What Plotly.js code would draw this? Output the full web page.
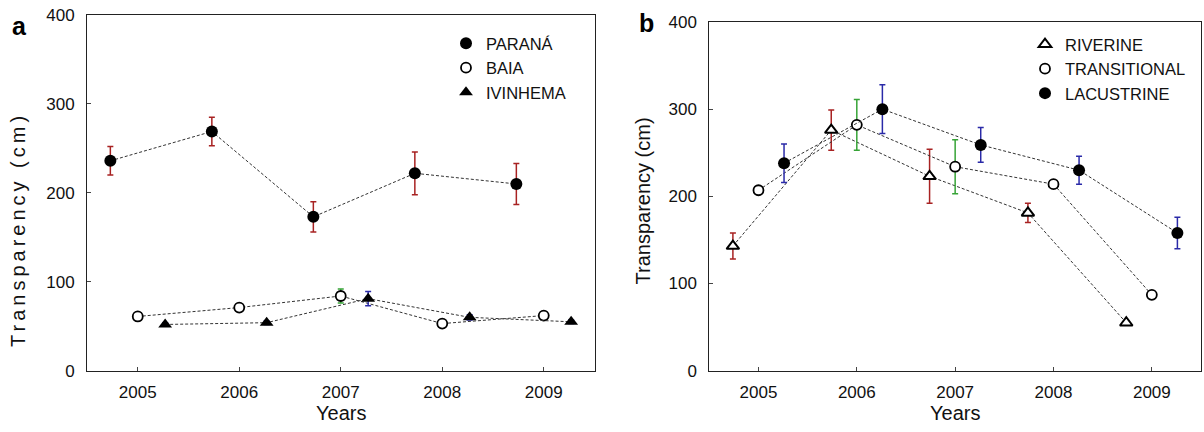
<!DOCTYPE html>
<html>
<head>
<meta charset="utf-8">
<script src="https://cdn.plot.ly/plotly-3.0.1.min.js"></script>
<style>
body { margin:0; padding:0; background:#fff; }
#chart { width:1204px; height:432px; }
.annotation[data-index="0"] .annotation-text { letter-spacing: 4px; }
</style>
</head>
<body>
<div id="chart"></div>
<script>
// ---- data ----
const years = [2005, 2006, 2007, 2008, 2009];

// Panel a
const paranaMean = [236, 269, 173, 222, 210];
const paranaErr  = [16, 16, 17, 24, 23];
const baiaMean   = [61, 71, 84, 53, 62];
const baiaErr    = [2, 2, 8, 2, 2];
const ivinMean   = [52, 54, 81, 60, 55];
const ivinErr    = [2, 2, 8, 3, 2];

// Panel b
const riverMean  = [143, 276, 223, 181, 55];
const riverErr   = [15, 23, 31, 11, 2];
const transMean  = [207, 282, 234, 214, 87];
const transErr   = [4, 29, 31, 3, 2];
const lacusMean  = [238, 300, 259, 230, 158];
const lacusErr   = [22, 28, 20, 16, 18];

const labelsA = ['PARANÁ', 'BAIA', 'IVINHEMA'];
const labelsB = ['RIVERINE', 'TRANSITIONAL', 'LACUSTRINE'];

// ---- styling ----
const RED = '#a82222', GREEN = '#36a336', BLUE = '#2a2aa8';
const FONT = '"Liberation Sans", Arial, sans-serif';
const shiftA = 0.27, shiftB = 0.26;
const dash = {color:'#333', width:1, dash:'3px,2px'};

function shifted(d) { return years.map(y => y + d); }

function series(x, y, err, errColor, marker, xa, ya) {
  return {
    type:'scatter', mode:'lines+markers', x:x, y:y, xaxis:xa, yaxis:ya,
    line:dash, marker:marker, showlegend:false, hoverinfo:'skip',
    error_y:{type:'data', array:err, visible:true, color:errColor, thickness:1.5, width:3}
  };
}
function legendItem(name, marker, leg) {
  return {type:'scatter', mode:'markers', x:[null], y:[null], name:name,
          marker:marker, legend:leg, showlegend:true, xaxis:'x', yaxis:'y'};
}

const mFilledCircle = {symbol:'circle', size:12, color:'#000', line:{color:'#000', width:0}};
const mOpenCircle   = {symbol:'circle', size:10, color:'#fff', line:{color:'#000', width:1.8}};
const mFilledTri    = {symbol:'triangle-up', size:12, color:'#000', line:{color:'#000', width:0}};
const mOpenTri      = {symbol:'triangle-up', size:11, color:'#fff', line:{color:'#000', width:2}};

const traces = [
  series(shifted(-shiftA), paranaMean, paranaErr, RED, mFilledCircle, 'x', 'y'),
  series(shifted(0), baiaMean, baiaErr, GREEN, mOpenCircle, 'x', 'y'),
  series(shifted(shiftA), ivinMean, ivinErr, BLUE, mFilledTri, 'x', 'y'),
  series(shifted(-shiftB), riverMean, riverErr, RED, mOpenTri, 'x2', 'y2'),
  series(shifted(0), transMean, transErr, GREEN, mOpenCircle, 'x2', 'y2'),
  series(shifted(shiftB), lacusMean, lacusErr, BLUE, mFilledCircle, 'x2', 'y2'),
  legendItem(labelsA[0], mFilledCircle, 'legend'),
  legendItem(labelsA[1], mOpenCircle, 'legend'),
  legendItem(labelsA[2], mFilledTri, 'legend'),
  legendItem(labelsB[0], mOpenTri, 'legend2'),
  legendItem(labelsB[1], mOpenCircle, 'legend2'),
  legendItem(labelsB[2], mFilledCircle, 'legend2')
];

const W = 1204, H = 432;
function xAxis(l, r) {
  return {domain:[l/W, r/W], range:[2004.5, 2009.5], tickvals:years, tickformat:'d',
          showgrid:false, zeroline:false, showline:true, mirror:true, linecolor:'#222', linewidth:1,
          ticks:'inside', ticklen:4, tickcolor:'#444', ticklabelstandoff:6,
          tickfont:{size:17, color:'#111', family:FONT}, fixedrange:true};
}
function yAxis(top, bottom, anchor) {
  return {domain:[(H-bottom)/H, (H-top)/H], range:[0, 400], dtick:100, anchor:anchor,
          showgrid:false, zeroline:false, showline:true, mirror:true, linecolor:'#222', linewidth:1,
          ticks:'inside', ticklen:4, tickcolor:'#444', ticklabelstandoff:8,
          tickfont:{size:17, color:'#111', family:FONT}, fixedrange:true};
}

const legendBase = {bgcolor:'rgba(0,0,0,0)', borderwidth:0, font:{size:16.5, family:FONT, color:'#111'},
                    xanchor:'left', yanchor:'top', tracegroupgap:0, itemclick:false, itemdoubleclick:false};

function ann(text, x, y, opts) {
  return Object.assign({text:text, x:x/W, y:(H-y)/H, xref:'paper', yref:'paper',
    showarrow:false, xanchor:'center', yanchor:'middle',
    font:{size:20, family:FONT, color:'#111'}}, opts || {});
}

const layout = {
  width:W, height:H, margin:{l:0, r:0, t:0, b:0},
  paper_bgcolor:'#fff', plot_bgcolor:'#fff',
  font:{family:FONT, color:'#111'},
  xaxis: Object.assign(xAxis(87, 594.5), {anchor:'y'}),
  yaxis: yAxis(15, 370.7, 'x'),
  xaxis2: Object.assign(xAxis(709.3, 1201), {anchor:'y2'}),
  yaxis2: yAxis(22, 370.7, 'x2'),
  legend: Object.assign({}, legendBase, {x:446/W, y:(H-26)/H}),
  legend2: Object.assign({}, legendBase, {x:1025/W, y:(H-27)/H}),
  annotations: [
    ann('Transparency (cm)', 18, 230, {textangle:-90}),
    ann('Transparency (cm)', 642, 201.5, {textangle:-90}),
    ann('Years', 340.7, 412.7),
    ann('Years', 955, 412.7),
    ann('<b>a</b>', 19.3, 26.5, {font:{size:25, family:FONT, color:'#000'}}),
    ann('<b>b</b>', 646, 23, {font:{size:25, family:FONT, color:'#000'}})
  ]
};

Plotly.newPlot('chart', traces, layout, {displayModeBar:false, staticPlot:true});
</script>
</body>
</html>
